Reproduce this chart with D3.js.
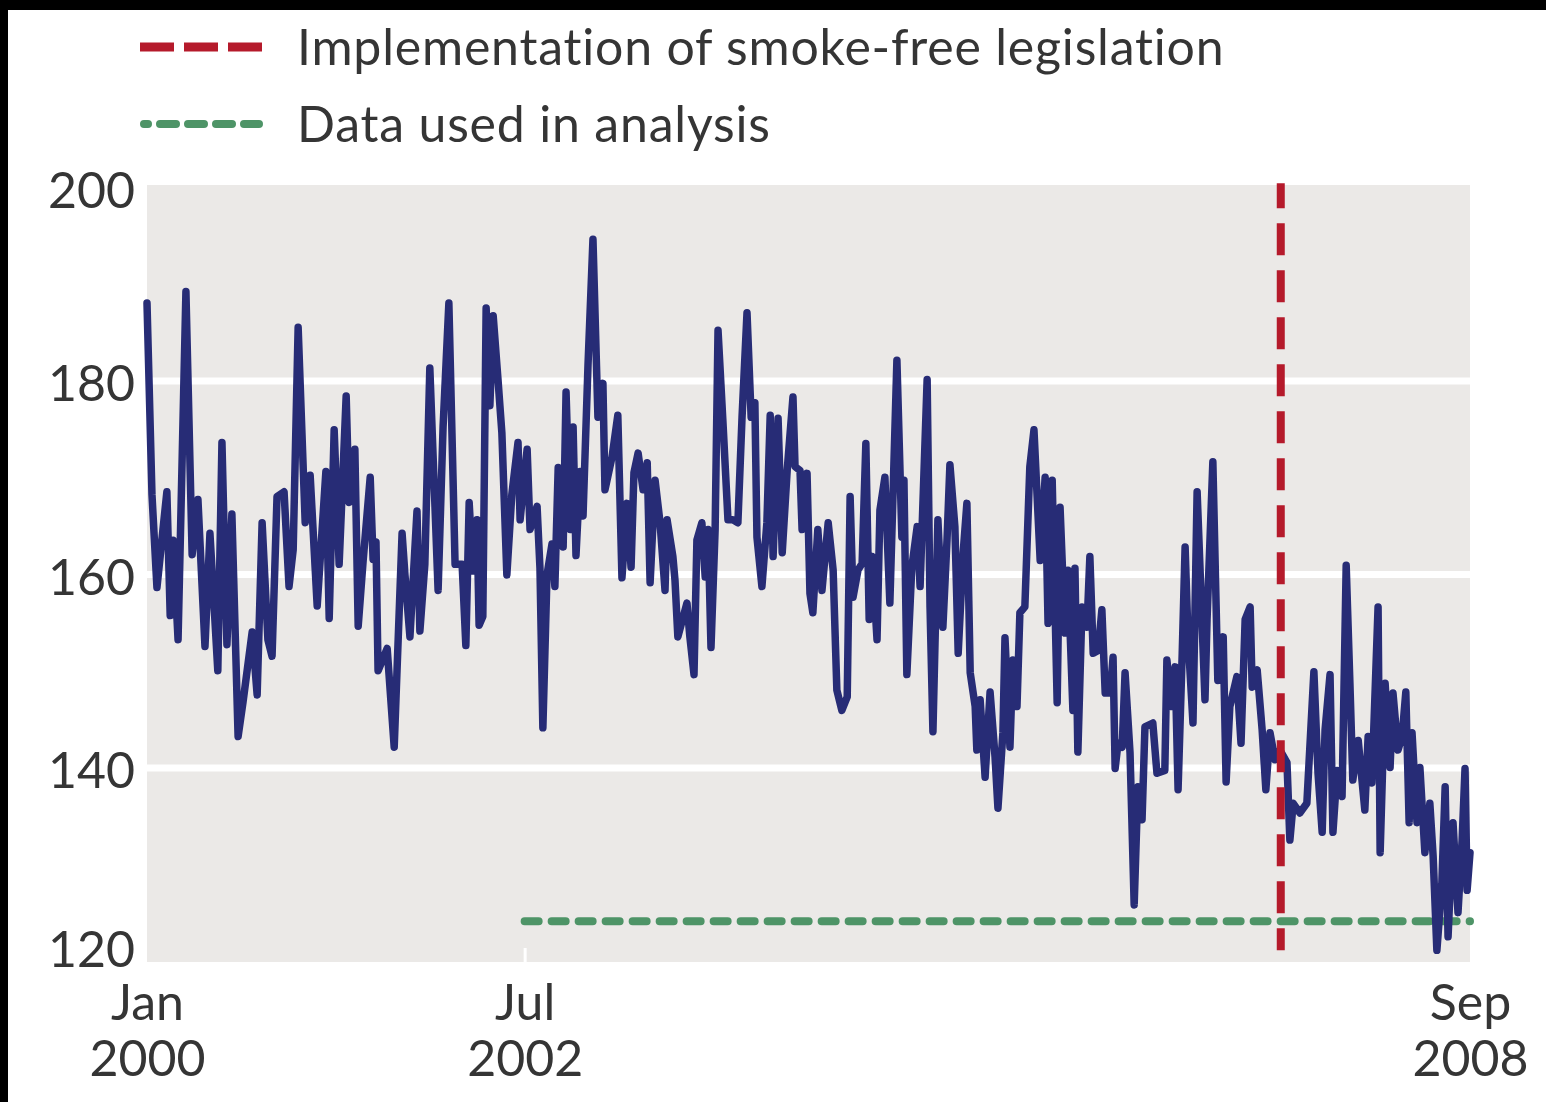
<!DOCTYPE html>
<html>
<head>
<meta charset="utf-8">
<script src="https://cdn.jsdelivr.net/npm/d3@7"></script>
<style>
  html, body { margin: 0; padding: 0; background: #ffffff; }
  svg { display: block; }
  text { font-variant-ligatures: none; }
</style>
</head>
<body>
<svg id="chart" width="1546" height="1102"></svg>
<script>
// Weekly admissions series: day offsets from 1 Jan 2000 and the matching values
const days = [
  0,12,24,48,56,63,75,94,109,123,
  140,152,171,181,193,205,220,232,254,266,
  278,292,302,314,331,343,353,365,382,394,
  411,432,440,452,464,481,488,502,510,522,
  539,546,553,558,580,597,616,623,635,652,
  659,671,683,703,715,729,744,761,770,778,
  787,797,802,811,819,828,836,848,857,869,
  881,896,901,918,925,942,949,956,966,978,
  985,993,1005,1012,1022,1029,1036,1046,1053,1065,
  1077,1089,1101,1106,1123,1137,1147,1159,1169,1176,
  1186,1198,1208,1215,1227,1239,1251,1256,1270,1275,
  1282,1304,1311,1321,1328,1340,1348,1355,1362,1372,
  1379,1391,1403,1415,1427,1437,1449,1459,1468,1473,
  1485,1497,1505,1512,1524,1534,1546,1560,1565,1577,
  1582,1594,1601,1608,1620,1630,1645,1657,1666,1678,
  1691,1698,1705,1717,1727,1736,1744,1751,1763,1770,
  1782,1794,1811,1823,1828,1835,1847,1860,1867,1884,
  1891,1898,1910,1922,1932,1939,1951,1959,1971,1980,
  1988,2000,2004,2012,2024,2036,2048,2055,2067,2072,
  2084,2091,2101,2108,2120,2132,2142,2157,2169,2176,
  2186,2198,2205,2217,2224,2236,2241,2248,2258,2270,
  2277,2285,2297,2306,2314,2326,2333,2338,2345,2355,
  2362,2374,2384,2393,2403,2410,2429,2439,2458,2463,
  2475,2483,2490,2500,2507,2514,2526,2536,2555,2560,
  2574,2586,2599,2606,2615,2632,2642,2652,2664,2669,
  2681,2693,2702,2712,2724,2736,2753,2760,2768,2784,
  2801,2818,2828,2838,2845,2857,2864,2874,2886,2896,
  2905,2912,2925,2941,2949,2958,2973,2978,2990,3002,
  3009,3021,3031,3040,3048,3055,3067,3074,3086,3098,
  3106,3115,3127,3135,3142,3154,3166,3176,3183,3188,3195
];
const admissions = [
  188,168.2,158.6,168.5,155.7,163.5,153.2,189.2,162,167.7,
  152.5,164.2,150,173.6,152.7,166.2,143.2,146.8,154,147.5,
  165.3,153.2,151.5,168,168.5,158.7,162.5,185.5,165.3,170.2,
  156.7,170.6,155.4,174.9,161,178.4,167.4,172.9,154.6,161.4,
  170,161.5,163.3,150,152.3,142.1,164.2,159.9,153.5,166.5,
  154.1,161,181.3,158.3,175.2,188,161,161,152.6,167.4,
  160.3,165.6,154.7,155.6,187.5,177.4,186.7,179.9,174.6,159.9,
  168.2,173.6,165.6,172.9,164.6,167,160.6,144.1,159.9,163.1,
  158.7,171,162.8,178.8,164.6,175.2,161.9,170.6,166,181.6,
  194.6,176.2,179.7,168.7,172.1,176.4,159.6,167.3,160.7,170.5,
  172.5,168.7,171.5,159.1,169.7,165.3,158.3,165.6,161.8,159.4,
  153.5,157,153.5,149.6,163.5,165.3,159.7,164.6,152.4,164.6,
  185.2,175.6,165.6,165.6,165.3,176.2,187,176.2,177.7,163.8,
  158.7,165.3,176.4,161.8,176.1,162.2,170.7,178.3,171.1,170.7,
  164.6,170.4,158,156,164.6,158.3,165.3,160.4,148,145.9,
  147.3,168,157.6,160.4,161.1,173.5,155.3,161.8,153.2,166.6,
  170,157,182.1,163.8,169.7,149.6,160.7,164.9,158.7,180.1,
  156.6,143.7,165.6,154.5,163.5,171.3,164.9,151.8,162.2,167.3,
  149.8,146.3,141.8,147,139,147.8,141.1,135.8,143.6,153.4,
  142.1,151.1,146.3,156,156.6,171.1,174.9,161.4,170,154.9,
  169.7,146.7,166.9,153.9,160.4,145.9,160.6,141.6,156.6,154.5,
  161.8,151.8,152.1,156.3,147.7,147.7,151.4,139.9,142.5,142.1,
  149.8,141.5,125.8,138,134.6,144.2,144.6,139.4,139.7,151.1,
  146.3,150.4,137.7,151.8,162.8,153.5,144.6,168.5,147,155.3,
  171.6,149,153.5,138.5,146.3,149.4,142.5,155.3,156.6,148.3,
  150.1,143.9,137.7,143.6,140.8,141.8,140.5,132.5,136.3,135.3,
  136.3,149.9,139.4,133.3,143.9,149.6,133.3,139.7,137,160.9,
  148.7,138.7,142.8,135.6,143.2,138.4,156.6,131.2,148.7,140,
  147.7,141.8,143.2,147.8,134.3,143.6,134.3,140,131.2,136.3,
  130.8,121.1,128,138,122.5,134.3,125,132.5,139.9,127.3,131.2
];

const seriesStart = new Date(2000, 0, 1);
const seriesEnd = new Date(2008, 8, 30);
const smokeFreeDate = new Date(2007, 6, 1);
const analysisStart = new Date(2002, 6, 1);
const analysisLevel = 124.1;

const yTicks = [120, 140, 160, 180, 200];
const yGrid = [140, 160, 180];
const xTickDates = [new Date(2000, 0, 1), new Date(2002, 6, 1), new Date(2008, 8, 30)];
const xTickLabels = [["Jan", "2000"], ["Jul", "2002"], ["Sep", "2008"]];
const legendLabels = ["Implementation of smoke-free legislation", "Data used in analysis"];

const colors = {
  series: "#272c76",
  smokeFree: "#b51a2b",
  analysis: "#4e9467",
  panel: "#ebe9e7",
  text: "#353535"
};
const FONT = "Lato, 'Liberation Sans', sans-serif";

const svg = d3.select("#chart");
const W = 1546, H = 1102;
const plot = { left: 147, right: 1470, top: 187, bottom: 961 };

// page frame
svg.append("rect").attr("width", W).attr("height", H).attr("fill", "#ffffff");
svg.append("rect").attr("x", 0).attr("y", 0).attr("width", W).attr("height", 10).attr("fill", "#000");
svg.append("rect").attr("x", 0).attr("y", 0).attr("width", 8).attr("height", H).attr("fill", "#000");

const x = d3.scaleTime().domain([seriesStart, seriesEnd]).range([plot.left, plot.right]);
const y = d3.scaleLinear().domain([120, 200]).range([plot.bottom, plot.top]);

// panel background
svg.append("rect")
  .attr("x", plot.left).attr("y", plot.top - 2)
  .attr("width", plot.right - plot.left).attr("height", plot.bottom - plot.top + 3)
  .attr("fill", colors.panel);

// horizontal gridlines
const grid = svg.append("g").attr("transform", `translate(${plot.left},0)`)
  .call(d3.axisLeft(y).tickValues(yGrid).tickSize(-(plot.right - plot.left)).tickFormat(""));
grid.select(".domain").remove();
grid.selectAll("line").attr("stroke", "#ffffff").attr("stroke-width", 7);

// x axis: white inner tick (only visible away from the panel edges) and two-line labels
const xAxis = svg.append("g").attr("transform", `translate(0,${plot.bottom + 1})`)
  .call(d3.axisBottom(x).tickValues(xTickDates).tickSize(-14).tickFormat(""));
xAxis.select(".domain").remove();
xAxis.selectAll("line")
  .attr("stroke", "#ffffff").attr("stroke-width", 3)
  .attr("stroke-opacity", (d, i) => (i === 0 || i === xTickDates.length - 1) ? 0 : 1);
xAxis.selectAll(".tick").each(function (d, i) {
  const t = d3.select(this).append("text")
    .attr("text-anchor", "middle")
    .attr("fill", colors.text)
    .style("font-family", FONT).style("font-size", "50px");
  t.append("tspan").attr("x", 0).attr("y", 58).text(xTickLabels[i][0]);
  t.append("tspan").attr("x", 0).attr("y", 114).text(xTickLabels[i][1]);
});

// y axis labels
const yAxis = svg.append("g").attr("transform", `translate(${plot.left},0)`)
  .call(d3.axisLeft(y).tickValues(yTicks).tickSize(0).tickPadding(12));
yAxis.select(".domain").remove();
yAxis.selectAll("text")
  .attr("fill", colors.text)
  .style("font-family", FONT).style("font-size", "50px")
  .attr("dy", d => d === 120 ? "0.1em" : "0.4em");

// analysis period
svg.append("line")
  .attr("x1", x(analysisStart)).attr("x2", x(seriesEnd))
  .attr("y1", y(analysisLevel)).attr("y2", y(analysisLevel))
  .attr("stroke", colors.analysis).attr("stroke-width", 8)
  .attr("stroke-linecap", "round").attr("stroke-dasharray", "14 13");

// admissions series
const series = days.map((d, i) => ({ date: d3.timeDay.offset(seriesStart, d), value: admissions[i] }));
svg.append("path")
  .datum(series)
  .attr("fill", "none")
  .attr("stroke", colors.series)
  .attr("stroke-width", 7.5)
  .attr("stroke-linejoin", "round")
  .attr("stroke-linecap", "round")
  .attr("d", d3.line().x(d => x(d.date)).y(d => y(d.value)));

// smoke-free legislation marker
svg.append("line")
  .attr("x1", x(smokeFreeDate)).attr("x2", x(smokeFreeDate))
  .attr("y1", y(200.4)).attr("y2", y(121.1))
  .attr("stroke", colors.smokeFree).attr("stroke-width", 8)
  .attr("stroke-dasharray", "32 15").attr("stroke-dashoffset", 7);

// legend
const legend = svg.append("g");
legend.append("line")
  .attr("x1", 140).attr("x2", 262).attr("y1", 47).attr("y2", 47)
  .attr("stroke", colors.smokeFree).attr("stroke-width", 9)
  .attr("stroke-dasharray", "34 10");
legend.append("line")
  .attr("x1", 144).attr("x2", 259).attr("y1", 124).attr("y2", 124)
  .attr("stroke", colors.analysis).attr("stroke-width", 8)
  .attr("stroke-linecap", "round")
  .attr("stroke-dasharray", "16 12").attr("stroke-dashoffset", 12);
legend.selectAll("text.legend-label")
  .data(legendLabels)
  .join("text")
  .attr("class", "legend-label")
  .attr("x", 297)
  .attr("y", (d, i) => i === 0 ? 65 : 142)
  .attr("fill", colors.text)
  .style("font-family", FONT).style("font-size", "50px")
  .style("letter-spacing", "0.8px")
  .text(d => d);
</script>
</body>
</html>
